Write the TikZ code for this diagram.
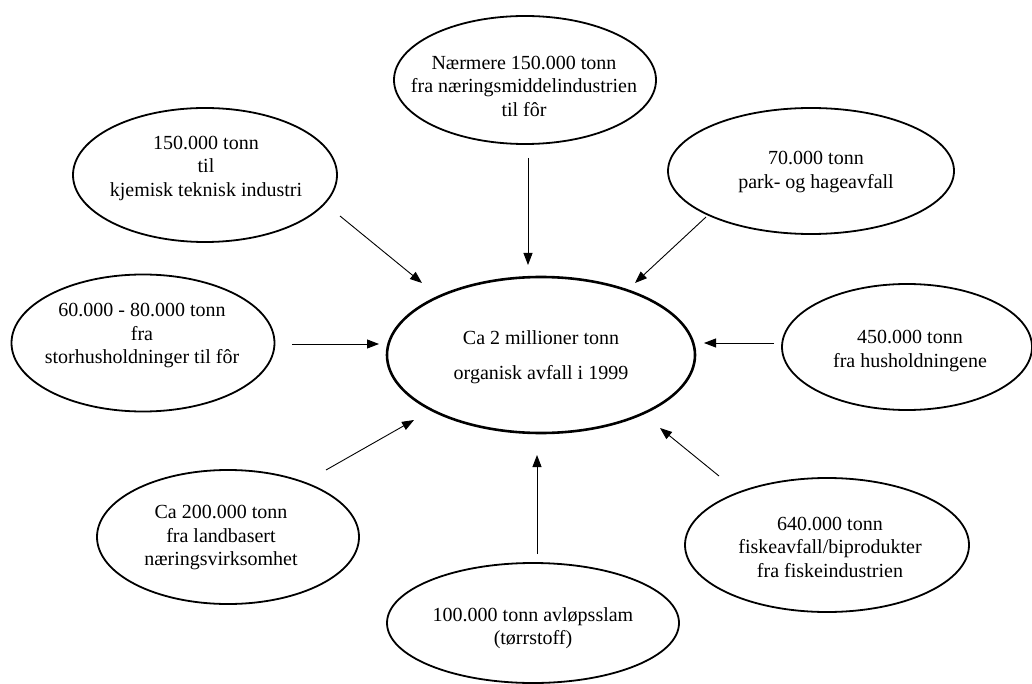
\documentclass[tikz,border=0pt]{standalone}
\usepackage{fontspec}
\setmainfont{Liberation Serif}
\usetikzlibrary{shapes.geometric,arrows.meta}
\begin{document}
\begin{tikzpicture}[x=1pt,y=-1pt,
  blob/.style={draw,ellipse,line width=1.8pt,inner sep=0pt},
  mainblob/.style={draw,ellipse,line width=2.6pt,inner sep=0pt},
  txt/.style={align=center,inner sep=0pt,font=\fontsize{20}{23.5}\selectfont},
  maintxt/.style={align=center,inner sep=0pt,font=\fontsize{20}{35}\selectfont},
  arr/.style={line width=0.9pt,-{Triangle[length=12pt,width=9pt]}}]
\useasboundingbox (0,0) rectangle (1032,684);

% centre
\node[mainblob,minimum width=308pt,minimum height=156pt] (c) at (541,355) {};
\node[maintxt] (cT) at (541,357) {Ca 2 millioner tonn\\organisk avfall i 1999};

% outer ellipses
\node[blob,minimum width=262pt,minimum height=128pt] (n) at (525,80) {};
\node[txt] (nT) at (524,86) {Nærmere 150.000 tonn\\fra næringsmiddelindustrien\\til fôr};

\node[blob,minimum width=264pt,minimum height=134pt] (nw) at (205,175) {};
\node[txt] (nwT) at (206,168) {150.000 tonn\\til\\kjemisk teknisk industri};

\node[blob,minimum width=286pt,minimum height=126pt] (ne) at (811,171) {};
\node[txt] (neT) at (816,172) {70.000 tonn\\park- og hageavfall};

\node[blob,minimum width=263pt,minimum height=137pt] (w) at (143,343) {};
\node[txt] (wT) at (142,336) {60.000 - 80.000 tonn\\fra\\storhusholdninger til fôr};

\node[blob,minimum width=250pt,minimum height=126pt] (e) at (907,347) {};
\node[txt] (eT) at (910,351) {450.000 tonn\\fra husholdningene};

\node[blob,minimum width=262pt,minimum height=134pt] (sw) at (228,537) {};
\node[txt] (swT) at (221,538) {Ca 200.000 tonn\\fra landbasert\\næringsvirksomhet};

\node[blob,minimum width=284pt,minimum height=134pt] (se) at (827,545) {};
\node[txt] (seT) at (830,547) {640.000 tonn\\fiskeavfall/biprodukter\\fra fiskeindustrien};

\node[blob,minimum width=292pt,minimum height=120pt] (s) at (533,623) {};
\node[txt] (sT) at (533,628) {100.000 tonn avløpsslam\\(tørrstoff)};

% connector ends
\coordinate (nA) at (528,158);  \coordinate (nB) at (528,265);
\coordinate (nwA) at (340,216); \coordinate (nwB) at (422,283);
\coordinate (neA) at (706,217); \coordinate (neB) at (635,283);
\coordinate (wA) at (292,344);  \coordinate (wB) at (379,344);
\coordinate (eA) at (774,343);  \coordinate (eB) at (704,343);
\coordinate (swA) at (326,470); \coordinate (swB) at (414,420);
\coordinate (seA) at (719,476); \coordinate (seB) at (660,428);
\coordinate (sA) at (537,554);  \coordinate (sB) at (537,455);

\draw[arr] (nA) -- (nB);
\draw[arr] (nwA) -- (nwB);
\draw[arr] (neA) -- (neB);
\draw[arr] (wA) -- (wB);
\draw[arr] (eA) -- (eB);
\draw[arr] (swA) -- (swB);
\draw[arr] (seA) -- (seB);
\draw[arr] (sA) -- (sB);
\end{tikzpicture}
\end{document}
